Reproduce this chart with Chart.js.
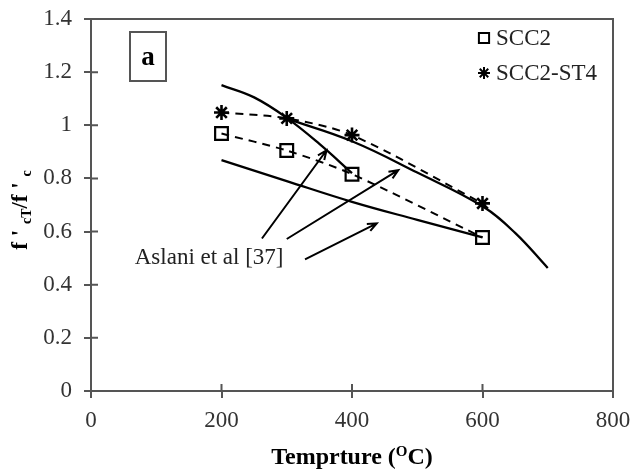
<!DOCTYPE html>
<html>
<head>
<meta charset="utf-8">
<script src="https://cdn.jsdelivr.net/npm/chart.js@4.4.1/dist/chart.umd.min.js"></script>
<style>
  html, body { margin: 0; padding: 0; background: #fff; }
  #wrap { width: 634px; height: 473px; }
</style>
</head>
<body>
<div id="wrap"><canvas id="grafiek"></canvas></div>
<script>
// measured series (temperature in C, relative strength f'cT/f'c)
const temps = [200, 300, 400, 600];
const scc2 = [0.969, 0.905, 0.816, 0.578];
const scc2st4 = [1.048, 1.026, 0.963, 0.706];

// Aslani et al [37] model curves
const aslaniAx = [200, 250, 300, 350, 400];
const aslaniAy = [1.151, 1.105, 1.028, 0.93, 0.82];
const aslaniBx = [300, 400, 500, 600, 650, 700];
const aslaniBy = [1.025, 0.94, 0.822, 0.695, 0.595, 0.463];
const aslaniCx = [200, 300, 400, 500, 600];
const aslaniCy = [0.869, 0.79, 0.712, 0.644, 0.578];

// annotation arrows (data coordinates): tail -> head
const arrowTails = [[262, 0.574], [300, 0.572], [328, 0.495]];
const arrowHeads = [[361, 0.906], [471, 0.831], [438, 0.631]];
const aslaniLabel = "Aslani et al [37]";
const aslaniLabelPos = [67, 0.50];

const xTicks = [0, 200, 400, 600, 800];
const yTicks = [0, 0.2, 0.4, 0.6, 0.8, 1, 1.2, 1.4];

const toXY = (xs, ys) => xs.map((x, i) => ({ x: x, y: ys[i] }));
const serif = "'Liberation Serif', 'Times New Roman', serif";
const asGrey = '#555';

const noPad = s => { s.paddingTop = 0; s.paddingBottom = 0; s.paddingLeft = 0; s.paddingRight = 0; };

const extras = {
  id: 'extras',
  afterDatasetsDraw(chart) {
    const { ctx, chartArea: a, scales } = chart;
    const xs = scales.x, ys = scales.y;
    ctx.save();

    // top and right frame
    ctx.strokeStyle = asGrey;
    ctx.lineWidth = 2;
    ctx.beginPath();
    ctx.moveTo(a.left, a.top);
    ctx.lineTo(a.right, a.top);
    ctx.lineTo(a.right, a.bottom);
    ctx.stroke();

    // inner half of tick marks
    ctx.beginPath();
    yTicks.forEach(v => {
      const py = ys.getPixelForValue(v);
      ctx.moveTo(a.left, py);
      ctx.lineTo(a.left + 7, py);
    });
    xTicks.forEach(v => {
      const px = xs.getPixelForValue(v);
      ctx.moveTo(px, a.bottom);
      ctx.lineTo(px, a.bottom - 7);
    });
    ctx.stroke();

    // arrows
    ctx.strokeStyle = '#000';
    ctx.lineWidth = 2;
    arrowTails.forEach((t, i) => {
      const h = arrowHeads[i];
      const x0 = xs.getPixelForValue(t[0]), y0 = ys.getPixelForValue(t[1]);
      const x1 = xs.getPixelForValue(h[0]), y1 = ys.getPixelForValue(h[1]);
      const ang = Math.atan2(y1 - y0, x1 - x0);
      ctx.beginPath();
      ctx.moveTo(x0, y0);
      ctx.lineTo(x1, y1);
      ctx.moveTo(x1 - 10 * Math.cos(ang - 0.4), y1 - 10 * Math.sin(ang - 0.4));
      ctx.lineTo(x1, y1);
      ctx.lineTo(x1 - 10 * Math.cos(ang + 0.4), y1 - 10 * Math.sin(ang + 0.4));
      ctx.stroke();
    });

    // label for the model curves
    ctx.fillStyle = '#222';
    ctx.font = '23px ' + serif;
    ctx.textAlign = 'left';
    ctx.textBaseline = 'middle';
    ctx.fillText(aslaniLabel, xs.getPixelForValue(aslaniLabelPos[0]), ys.getPixelForValue(aslaniLabelPos[1]));

    // "a" box
    ctx.strokeStyle = asGrey;
    ctx.lineWidth = 2;
    ctx.strokeRect(a.left + 39, a.top + 13, 36, 49);
    ctx.fillStyle = '#000';
    ctx.font = 'bold 27px ' + serif;
    ctx.textAlign = 'center';
    ctx.fillText('a', a.left + 57, a.top + 39);

    // legend (measured series only)
    ctx.textAlign = 'left';
    ctx.font = '23px ' + serif;
    [0, 1].forEach((di, k) => {
      const ds = chart.data.datasets[di];
      const cy = a.top + 19 + k * 35;
      ctx.fillStyle = '#fff';
      ctx.strokeStyle = '#000';
      Chart.helpers.drawPoint(ctx, {
        pointStyle: ds.pointStyle, radius: ds.pointRadius * 0.8,
        borderWidth: 2.5, rotation: 0
      }, a.left + 393, cy);
      ctx.fillStyle = '#222';
      ctx.fillText(ds.label, a.left + 405, cy + 1);
    });

    // x axis title with superscript
    ctx.fillStyle = '#000';
    const xParts = [['Temprture (', 'bold 24px', 0], ['O', 'bold 15px', -8], ['C)', 'bold 24px', 0]];
    drawParts(ctx, xParts, (a.left + a.right) / 2, 456);

    // y axis title with subscripts, rotated
    ctx.save();
    ctx.translate(19, 210);
    ctx.rotate(-Math.PI / 2);
    const yParts = [["f ' ", 'bold 23px', 0], ['cT', 'bold 14px', 4], ["/f ' ", 'bold 23px', 0], ['c', 'bold 14px', 4]];
    drawParts(ctx, yParts, 0, 0);
    ctx.restore();

    ctx.restore();
  }
};

function drawParts(ctx, parts, cx, cy) {
  let total = 0;
  parts.forEach(p => { ctx.font = p[1] + ' ' + serif; total += ctx.measureText(p[0]).width; });
  let x = cx - total / 2;
  ctx.textAlign = 'left';
  ctx.textBaseline = 'alphabetic';
  parts.forEach(p => {
    ctx.font = p[1] + ' ' + serif;
    ctx.fillText(p[0], x, cy + 8 + p[2]);
    x += ctx.measureText(p[0]).width;
  });
}

const modelLine = (xs, ys) => ({
  label: 'Aslani',
  data: toXY(xs, ys),
  borderColor: '#000',
  borderWidth: 2.3,
  pointRadius: 0,
  tension: 0.4,
  fill: false
});

new Chart(document.getElementById('grafiek').getContext('2d'), {
  type: 'line',
  data: {
    datasets: [
      {
        label: 'SCC2',
        data: toXY(temps, scc2),
        borderColor: '#000',
        borderWidth: 2,
        borderDash: [8, 6],
        tension: 0.3,
        pointStyle: 'rect',
        pointRadius: 9,
        pointBorderWidth: 2.2,
        pointBorderColor: '#000',
        pointBackgroundColor: 'rgba(0,0,0,0)',
        fill: false
      },
      {
        label: 'SCC2-ST4',
        data: toXY(temps, scc2st4),
        borderColor: '#000',
        borderWidth: 2,
        borderDash: [8, 6],
        tension: 0.3,
        pointStyle: 'star',
        pointRadius: 7.5,
        pointBorderWidth: 2.6,
        pointBorderColor: '#000',
        fill: false
      },
      modelLine(aslaniAx, aslaniAy),
      modelLine(aslaniBx, aslaniBy),
      modelLine(aslaniCx, aslaniCy)
    ]
  },
  options: {
    responsive: true,
    maintainAspectRatio: false,
    animation: false,
    layout: { padding: { top: 19, right: 21, left: 0, bottom: 0 } },
    plugins: { legend: { display: false }, tooltip: { enabled: false } },
    scales: {
      x: {
        type: 'linear',
        min: 0, max: 800,
        afterBuildTicks: s => { s.ticks = xTicks.map(v => ({ value: v })); },
        afterFit: s => { s.height = 82; noPad(s); },
        grid: { drawOnChartArea: false, drawTicks: true, tickLength: 7, color: asGrey, lineWidth: 2 },
        border: { display: true, color: asGrey, width: 2 },
        ticks: { color: '#333', font: { family: serif, size: 23 }, padding: 9, maxRotation: 0 }
      },
      y: {
        min: 0, max: 1.4,
        afterBuildTicks: s => { s.ticks = yTicks.map(v => ({ value: v })); },
        afterFit: s => { s.width = 91; noPad(s); },
        grid: { drawOnChartArea: false, drawTicks: true, tickLength: 7, color: asGrey, lineWidth: 2 },
        border: { display: true, color: asGrey, width: 2 },
        ticks: {
          color: '#333', font: { family: serif, size: 23 }, padding: 12,
          callback: v => String(Math.round(v * 10) / 10)
        }
      }
    }
  },
  plugins: [extras]
});
</script>
</body>
</html>
